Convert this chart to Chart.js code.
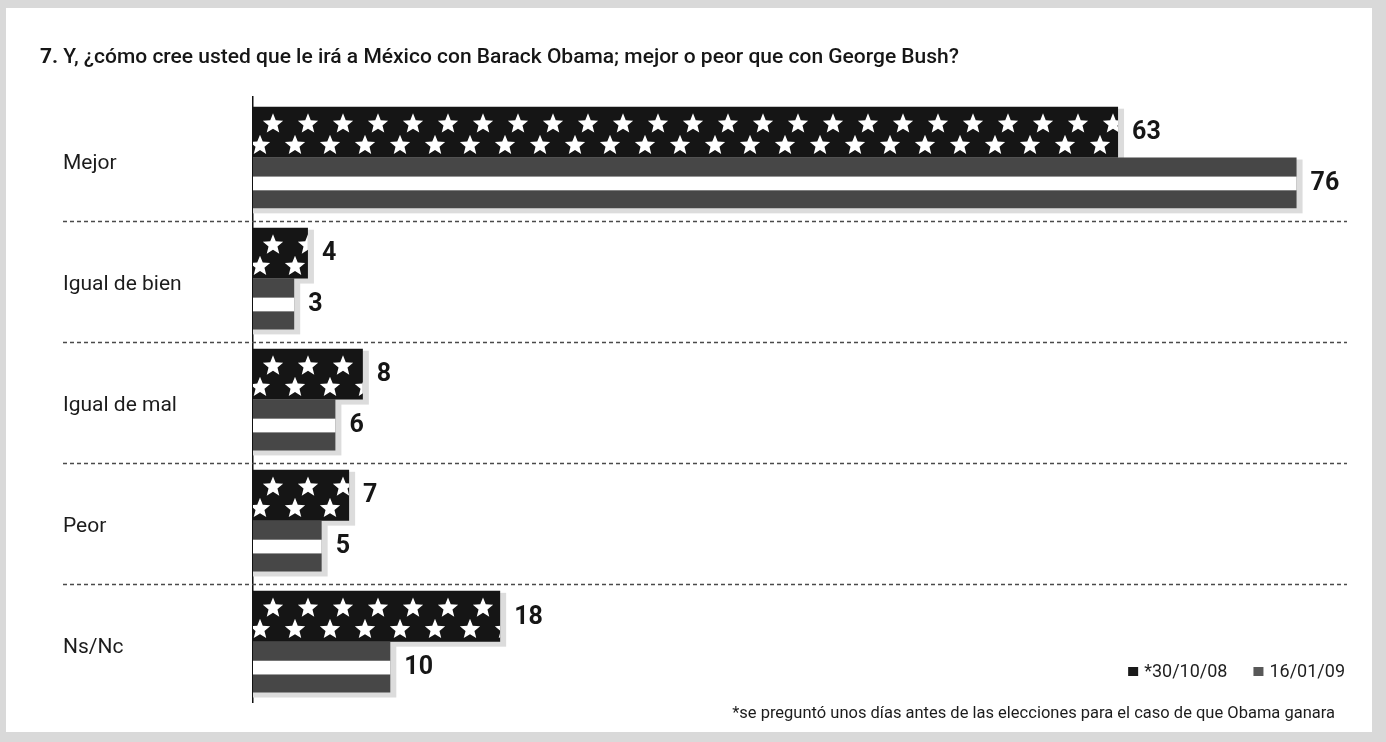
<!DOCTYPE html>
<html><head><meta charset="utf-8">
<script src="https://cdn.jsdelivr.net/npm/chart.js@4.4.0/dist/chart.umd.min.js"></script>
<style>
html,body{margin:0;padding:0;width:1386px;height:742px;background:#d9d9d9;overflow:hidden}
#wrap{position:absolute;left:6px;top:8px;width:1366px;height:724px;background:#fff}
</style></head><body>
<div id="wrap"><canvas id="c"></canvas></div>
<script>
const categories = ['Mejor', 'Igual de bien', 'Igual de mal', 'Peor', 'Ns/Nc'];
const seriesNames = ['*30/10/08', '16/01/09'];
const values3010 = [63, 4, 8, 7, 18];
const values1601 = [76, 3, 6, 5, 10];
const titleNumber = '7.';
const titleText = ' Y, ¿cómo cree usted que le irá a México con Barack Obama; mejor o peor que con George Bush?';
const footnote = '*se preguntó unos días antes de las elecciones para el caso de que Obama ganara';

const FONT = "Roboto, 'Open Sans', sans-serif";
const INK = '#161616';

function starPath(ctx, cx, cy, R, r) {
  for (let k = 0; k < 10; k++) {
    const a = -Math.PI / 2 + k * Math.PI / 5;
    const rad = k % 2 ? r : R;
    const px = cx + rad * Math.cos(a), py = cy + rad * Math.sin(a);
    if (k === 0) ctx.moveTo(px, py); else ctx.lineTo(px, py);
  }
  ctx.closePath();
}
function barGeom(el) {
  const p = el.getProps(['x', 'y', 'base', 'height'], true);
  return { left: Math.min(p.base, p.x), right: Math.max(p.base, p.x), top: p.y - p.height / 2, h: p.height, cy: p.y };
}

const haloPlugin = {
  id: 'halo',
  beforeDatasetsDraw(chart) {
    const ctx = chart.ctx;
    ctx.save();
    ctx.fillStyle = '#dcdcdc';
    chart.data.datasets.forEach((ds, i) => {
      chart.getDatasetMeta(i).data.forEach(el => {
        const g = barGeom(el);
        ctx.fillRect(g.left, g.top + 2, g.right - g.left + 6, g.h + 3);
      });
    });
    ctx.restore();
  }
};

const decoPlugin = {
  id: 'deco',
  afterDatasetsDraw(chart) {
    const ctx = chart.ctx;
    ctx.save();
    chart.getDatasetMeta(0).data.forEach(el => {
      const g = barGeom(el);
      ctx.save();
      ctx.beginPath();
      ctx.rect(g.left, g.top, g.right - g.left, g.h);
      ctx.clip();
      ctx.fillStyle = '#ffffff';
      ctx.beginPath();
      const R = g.h * 0.21;
      for (let sx = g.left + 20; sx < g.right + R; sx += 35) starPath(ctx, sx, g.top + g.h * 0.34, R, R * 0.44);
      for (let sx = g.left + 7; sx < g.right + R; sx += 35) starPath(ctx, sx, g.top + g.h * 0.76, R, R * 0.44);
      ctx.fill();
      ctx.restore();
    });
    ctx.fillStyle = '#ffffff';
    chart.getDatasetMeta(1).data.forEach(el => {
      const g = barGeom(el);
      ctx.fillRect(g.left, g.top + g.h * 0.375, g.right - g.left, g.h * 0.27);
    });
    ctx.restore();
  }
};

const valuePlugin = {
  id: 'values',
  afterDatasetsDraw(chart) {
    const ctx = chart.ctx;
    ctx.save();
    ctx.font = `bold 25px ${FONT}`;
    ctx.fillStyle = INK;
    ctx.textBaseline = 'middle';
    ctx.textAlign = 'left';
    chart.data.datasets.forEach((ds, i) => {
      chart.getDatasetMeta(i).data.forEach((el, j) => {
        const g = barGeom(el);
        ctx.fillText(String(ds.data[j]), g.right + 14, g.cy + 1);
      });
    });
    ctx.restore();
  }
};

const separatorPlugin = {
  id: 'separators',
  beforeDatasetsDraw(chart) {
    const ctx = chart.ctx, ys = chart.scales.y, area = chart.chartArea;
    ctx.save();
    ctx.strokeStyle = '#4a4a4a';
    ctx.lineWidth = 1.3;
    ctx.setLineDash([4, 3]);
    for (let i = 1; i < categories.length; i++) {
      const yy = Math.round((ys.getPixelForValue(i - 1) + ys.getPixelForValue(i)) / 2 + 3) + 0.5;
      ctx.beginPath();
      ctx.moveTo(57, yy);
      ctx.lineTo(area.right + 12, yy);
      ctx.stroke();
    }
    ctx.restore();
  }
};

const textPlugin = {
  id: 'texts',
  afterDraw(chart) {
    const ctx = chart.ctx;
    ctx.save();
    ctx.fillStyle = INK;
    ctx.textBaseline = 'middle';
    ctx.textAlign = 'left';
    ctx.font = `bold 21px ${FONT}`;
    ctx.fillText(titleNumber, 34, 50);
    const w = ctx.measureText(titleNumber).width;
    ctx.font = `500 21px ${FONT}`;
    ctx.fillText(titleText, 34 + w, 50);

    // legend, right aligned
    ctx.font = `18px ${FONT}`;
    ctx.textBaseline = 'alphabetic';
    const ds = chart.data.datasets;
    let x = 1339;
    const items = [];
    for (let i = ds.length - 1; i >= 0; i--) {
      const tw = ctx.measureText(ds[i].label).width;
      const tx = x - tw;
      const sx = tx - 6 - 10;
      items.push({ label: ds[i].label, color: ds[i].legendColor, tx, sx });
      x = sx - 26;
    }
    items.forEach(it => {
      ctx.fillStyle = it.color;
      ctx.fillRect(it.sx, 659, 10, 9);
      ctx.fillStyle = '#1e1e1e';
      ctx.fillText(it.label, it.tx, 669);
    });
    ctx.restore();
  }
};

new Chart(document.getElementById('c'), {
  type: 'bar',
  data: {
    labels: categories,
    datasets: [
      { label: seriesNames[0], data: values3010, backgroundColor: '#151515', legendColor: '#1a1a1a',
        barPercentage: 1.0, categoryPercentage: 0.84 },
      { label: seriesNames[1], data: values1601, backgroundColor: '#474747', legendColor: '#585858',
        barPercentage: 1.0, categoryPercentage: 0.84 }
    ]
  },
  options: {
    indexAxis: 'y',
    responsive: true,
    maintainAspectRatio: false,
    animation: false,
    layout: { padding: { left: 57, right: 37, top: 89, bottom: 0 } },
    scales: {
      x: { display: false, min: 0, max: 78.8 },
      y: {
        grid: { display: false },
        border: { display: true, color: '#111', width: 1.5 },
        ticks: { crossAlign: 'far', labelOffset: 6, color: '#1c1c1c', font: { family: FONT, size: 21 } },
        afterFit(s) { s.width = 190; }
      }
    },
    plugins: {
      legend: { display: false },
      tooltip: { enabled: false },
      title: { display: false },
      subtitle: {
        display: true, text: footnote, position: 'bottom', align: 'end',
        color: '#1c1c1c', font: { family: FONT, size: 16.5, weight: 'normal' },
        padding: { top: 2, bottom: 8 }
      }
    }
  },
  plugins: [haloPlugin, separatorPlugin, decoPlugin, valuePlugin, textPlugin]
});
</script>
</body></html>
